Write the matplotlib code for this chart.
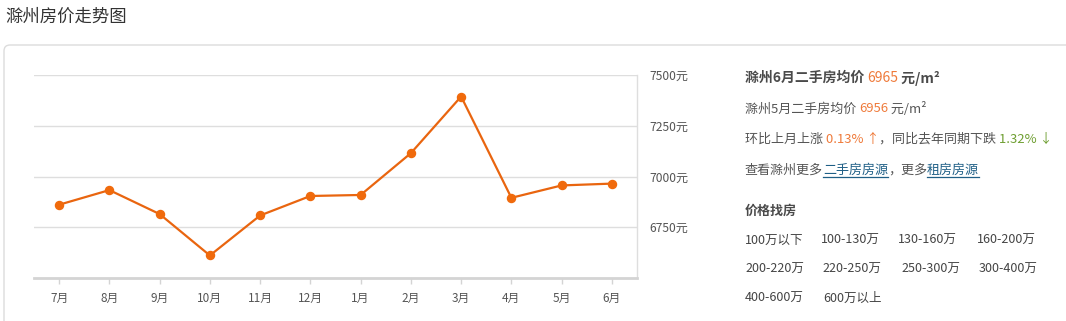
import matplotlib
matplotlib.use("Agg")
import matplotlib.pyplot as plt
from matplotlib.patches import FancyBboxPatch

plt.rcParams['font.family'] = ['Noto Sans CJK SC', 'DejaVu Sans']

# Monthly average second-hand price (元/m²)
months = ['7月', '8月', '9月', '10月', '11月', '12月', '1月', '2月', '3月', '4月', '5月', '6月']
prices = [6861, 6933, 6815, 6611, 6808, 6904, 6909, 7115, 7394, 6895, 6956, 6965]
y_ticks = [6750, 7000, 7250, 7500]
y_tick_labels = ['6750元', '7000元', '7250元', '7500元']

title = '滁州房价走势图'
price_ranges = [
    ['100万以下', '100-130万', '130-160万', '160-200万'],
    ['200-220万', '220-250万', '250-300万', '300-400万'],
    ['400-600万', '600万以上'],
]

W, H = 1066, 321
fig = plt.figure(figsize=(W / 100, H / 100), dpi=100)
fig.patch.set_facecolor('white')

# Full-size overlay in pixel coordinates for the panel and side text
bg = fig.add_axes([0, 0, 1, 1], zorder=0)
bg.set_xlim(0, W)
bg.set_ylim(H, 0)
bg.axis('off')

bg.text(5, 17, title, fontsize=12.5, color='#333333', va='center', ha='left')
panel = FancyBboxPatch((4, 45), W + 40, H, boxstyle='round,pad=0,rounding_size=6',
                       facecolor='white', edgecolor='#dcdcdc', linewidth=1)
bg.add_patch(panel)

# Line chart
ax = fig.add_axes([34 / W, 1 - 278 / H, 603 / W, 203 / H], zorder=1)
ax.set_facecolor('none')
x = list(range(len(months)))
ax.plot(x, prices, color='#e9650f', linewidth=1.6, marker='o', markersize=5.8,
        markerfacecolor='#f06a0c', markeredgecolor='#f06a0c', zorder=3)
ax.set_xlim(-0.5, len(months) - 0.5)
ax.set_ylim(6500, 7500)
ax.set_xticks(x)
ax.set_xticklabels(months)
ax.set_yticks(y_ticks)
ax.set_yticklabels(y_tick_labels)
ax.yaxis.tick_right()
ax.grid(axis='y', color='#dedede', linewidth=1)
ax.set_axisbelow(True)
for side in ['top', 'left']:
    ax.spines[side].set_visible(False)
ax.spines['right'].set_color('#dedede')
ax.spines['right'].set_linewidth(1)
ax.spines['bottom'].set_color('#d4d4d4')
ax.spines['bottom'].set_linewidth(2)
ax.tick_params(axis='x', length=4, width=1, color='#d4d4d4', pad=6,
               labelsize=8.5, labelcolor='#555555')
ax.tick_params(axis='y', length=0, pad=9, labelsize=8.7, labelcolor='#555555')

renderer = fig.canvas.get_renderer()


def draw_runs(x0, y, runs, size=9.4):
    """Draw consecutive text runs on one line; each run is (text, color, bold, underline, size)."""
    cx = x0
    for text, color, bold, underline, sz in runs:
        t = bg.text(cx, y, text, fontsize=sz or size, color=color, va='center', ha='left',
                    fontweight='bold' if bold else 'normal')
        bb = t.get_window_extent(renderer=renderer)
        w = bb.width
        if underline:
            bg.plot([cx, cx + w], [y + 7, y + 7], color=color, linewidth=0.9)
        cx += w


grey = '#555555'
orange = '#ef7a3a'
green = '#6f9f32'
link = '#1f5f86'

draw_runs(745, 78, [('滁州6月二手房均价 ', '#4a4a4a', True, False, 10),
                    ('6965', orange, False, False, 10),
                    (' 元/m²', '#4a4a4a', True, False, 10)])
draw_runs(745, 109, [('滁州5月二手房均价 ', grey, False, False, None),
                     ('6956', orange, False, False, None),
                     (' 元/m²', grey, False, False, None)])
draw_runs(745, 139, [('环比上月上涨 ', grey, False, False, None),
                     ('0.13% ↑', orange, False, False, None),
                     ('，同比去年同期下跌 ', grey, False, False, None),
                     ('1.32% ↓', green, False, False, None)])
draw_runs(745, 170, [('查看滁州更多', grey, False, False, None),
                     ('二手房房源', link, False, True, None),
                     ('，更多', grey, False, False, None),
                     ('租房房源', link, False, True, None)])

bg.text(745, 211, '价格找房', fontsize=9.4, color='#4a4a4a', fontweight='bold',
        va='center', ha='left')
col_x = [[745, 821, 898, 977], [745, 822, 901, 979], [745, 823]]
row_y = [240, 269, 298]
for labels, xs, yy in zip(price_ranges, col_x, row_y):
    for lab, xx in zip(labels, xs):
        bg.text(xx, yy, lab, fontsize=9, color='#444444', va='center', ha='left')

fig.savefig('out.png', dpi=100, facecolor='white')
